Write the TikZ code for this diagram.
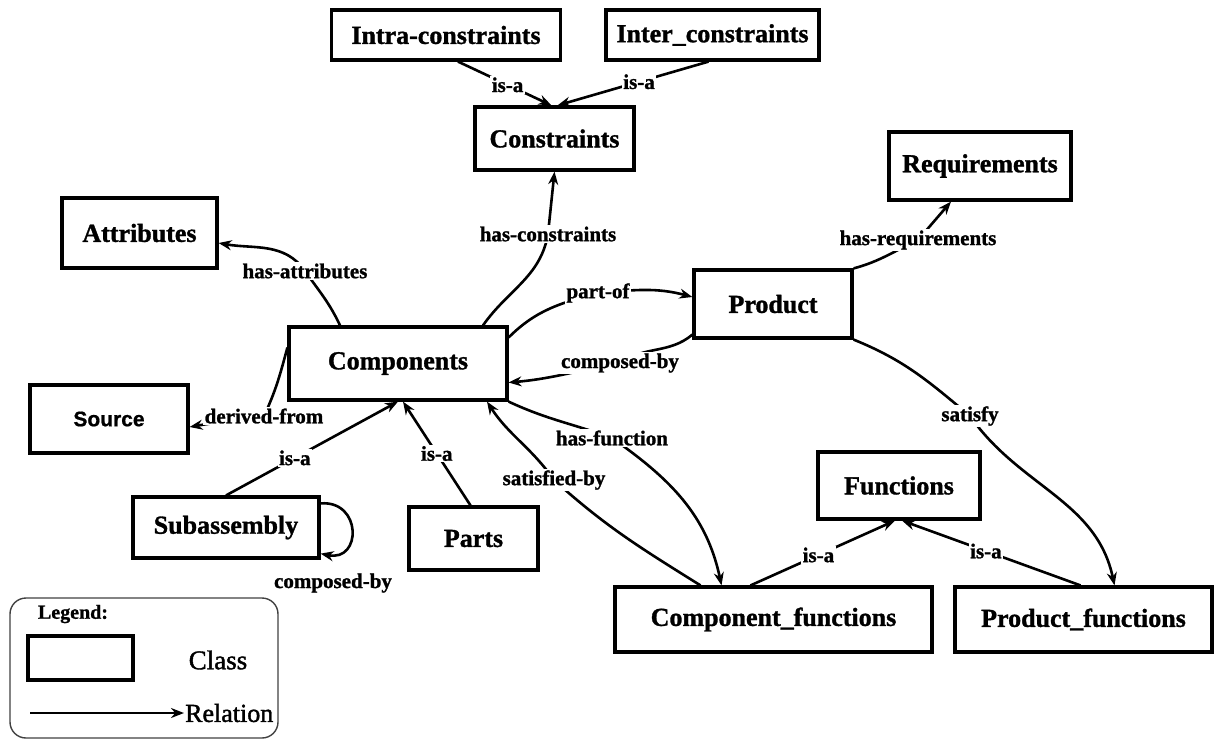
\documentclass[tikz,border=0pt]{standalone}
\usepackage{fontspec}
\setmainfont{Liberation Serif}[BoldFeatures={FakeBold=1.2}]
\newfontfamily\srcfont{Liberation Sans}[BoldFeatures={FakeBold=0.8}]
\newfontfamily\legendfont{Liberation Serif}[FakeBold=1.5]
\usetikzlibrary{arrows.meta}

\tikzset{
  cls/.style={draw, line width=3.2pt, fill=white, inner sep=0pt,
    font=\fontsize{26}{28}\selectfont\bfseries},
  rel/.style={line width=2.6pt, -{Stealth[length=13pt,width=10pt]}},
  lbl/.style={fill=white, inner sep=1.5pt,
    font=\fontsize{21}{23}\selectfont\bfseries},
}

\begin{document}
\begin{tikzpicture}[x=1pt,y=-1pt]
\useasboundingbox (0,0) rectangle (1214,740);

% classes
\node[cls, minimum width=229pt, minimum height=50pt] (intra)  at (446,35)      {Intra-constraints};
\node[cls, minimum width=213pt, minimum height=50pt] (inter)  at (712.5,35)    {Inter\_constraints};
\node[cls, minimum width=159pt, minimum height=63pt] (constr) at (554.5,138.5) {Constraints};
\node[cls, minimum width=182pt, minimum height=68pt] (req)    at (980,166)     {Requirements};
\node[cls, minimum width=155pt, minimum height=70pt] (attr)   at (139.5,233)   {Attributes};
\node[cls, minimum width=158pt, minimum height=68pt] (prod)   at (773,304)     {Product};
\node[cls, minimum width=218pt, minimum height=73pt] (comp)   at (398,363.5)   {Components};
\node[cls, minimum width=158pt, minimum height=68pt,
      font=\srcfont\fontsize{21}{23}\selectfont\bfseries] (src) at (109,419) {Source};
\node[cls, minimum width=186pt, minimum height=61pt] (sub)    at (226,527.5)   {Subassembly};
\node[cls, minimum width=129pt, minimum height=63pt] (parts)  at (473.5,538.5) {Parts};
\node[cls, minimum width=162pt, minimum height=67pt] (fn)     at (899,485.5)   {Functions};
\node[cls, minimum width=317pt, minimum height=65pt] (cf)     at (773.5,619.5) {Component\_functions};
\node[cls, minimum width=257pt, minimum height=65pt] (pf)     at (1083.5,619.5){Product\_functions};

% label positions of the curved relations
\coordinate (Lhc)  at (548,234);
\coordinate (Lha)  at (305,271);
\coordinate (Ldf)  at (264,416);
\coordinate (Lpo)  at (598,293);
\coordinate (Lcb)  at (620,363);
\coordinate (Lhr)  at (918,240);
\coordinate (Lsat) at (970,416);
\coordinate (Lhf)  at (612,438);
\coordinate (Lsb)  at (554,480);

% curved relations
\draw[rel] ([xshift=85pt]comp.north) to[out=55,in=-100] (Lhc) -- (constr.south);
\draw[rel] ([xshift=-58pt]comp.north) to[out=115,in=-55] (Lha)
           to[out=125,in=-10] ([yshift=-10pt]attr.east);
\draw[rel] ([yshift=16pt]comp.west) to[out=-105,in=65] (Ldf)
           to[out=190,in=10] ([yshift=-8pt]src.east);
\draw[rel] ([yshift=26pt]comp.east) to[out=45,in=195] (Lpo)
           to[out=5,in=165] ([yshift=7pt]prod.west);
\draw[rel] ([yshift=5pt]prod.south west) to[out=-140,in=35] (Lcb)
           to[out=190,in=5] ([yshift=-19pt]comp.east);
\draw[rel] (prod.north east) to[out=15,in=205] (Lhr) -- ([xshift=-29pt]req.south);
\draw[rel] (prod.south east) to[out=-22,in=140] (Lsat)
           to[out=-55,in=102] ([xshift=31pt]pf.north);
\draw[rel] (comp.south east) to[out=-25,in=160] (Lhf)
           to[out=-35,in=102] ([xshift=-52pt]cf.north);
\draw[rel] ([xshift=-73pt]cf.north) to[out=148,in=-42] (Lsb)
           to[out=125,in=-57] ([xshift=89pt]comp.south);

% self relation of Subassembly
\draw[rel] ([yshift=-8pt]sub.north east) .. controls (362,500) and (362,562) .. ([yshift=6pt]sub.south east);
\node[lbl] (lsub) at (333,583) {composed-by};

% straight is-a relations
\draw[rel] ([xshift=12pt]intra.south) -- node[lbl,pos=0.53] (isa1) {is-a} ([xshift=-3pt]constr.north);
\draw[rel] ([xshift=-4pt]inter.south) -- node[lbl,pos=0.46] (isa2) {is-a} ([xshift=3pt]constr.north);
\draw[rel] (sub.north) -- node[lbl,pos=0.4] (isa3) {is-a} (comp.south);
\draw[rel] ([xshift=-3pt]parts.north) -- node[lbl,pos=0.5] (isa4) {is-a} ([xshift=5pt]comp.south);
\draw[rel] ([xshift=-23pt]cf.north) -- node[lbl,pos=0.47] (isa5) {is-a} ([xshift=-4pt]fn.south);
\draw[rel] ([xshift=-3pt]pf.north) -- node[lbl,pos=0.53] (isa6) {is-a} ([xshift=3pt]fn.south);

% labels of the curved relations
\node[lbl] (hc)  at (Lhc)  {has-constraints};
\node[lbl] (ha)  at (Lha)  {has-attributes};
\node[lbl] (df)  at (Ldf)  {derived-from};
\node[lbl] (po)  at (Lpo)  {part-of};
\node[lbl] (cb)  at (Lcb)  {composed-by};
\node[lbl] (hr)  at (Lhr)  {has-requirements};
\node[lbl] (sat) at (Lsat) {satisfy};
\node[lbl] (hf)  at (Lhf)  {has-function};
\node[lbl] (sb)  at (Lsb)  {satisfied-by};

% legend
\node[draw=black!75, line width=1.4pt, rounded corners=16pt,
      minimum width=268pt, minimum height=140pt] (legend) at (144,668) {};
\node[font=\fontsize{20}{22}\selectfont\bfseries] (lgtitle) at (73,614) {Legend:};
\node[draw, line width=3.2pt, minimum width=105pt, minimum height=44pt] (lgbox) at (80.5,658) {};
\node[font=\legendfont\fontsize{27}{29}\selectfont] (lgclass) at (218,660) {Class};
\node[font=\legendfont\fontsize{26}{28}\selectfont, anchor=west, inner sep=1pt] (lgrel) at (184,713) {Relation};
\coordinate (lgstart) at (30,713);
\draw[rel] (lgstart) -- (lgrel.west);
\end{tikzpicture}
\end{document}
